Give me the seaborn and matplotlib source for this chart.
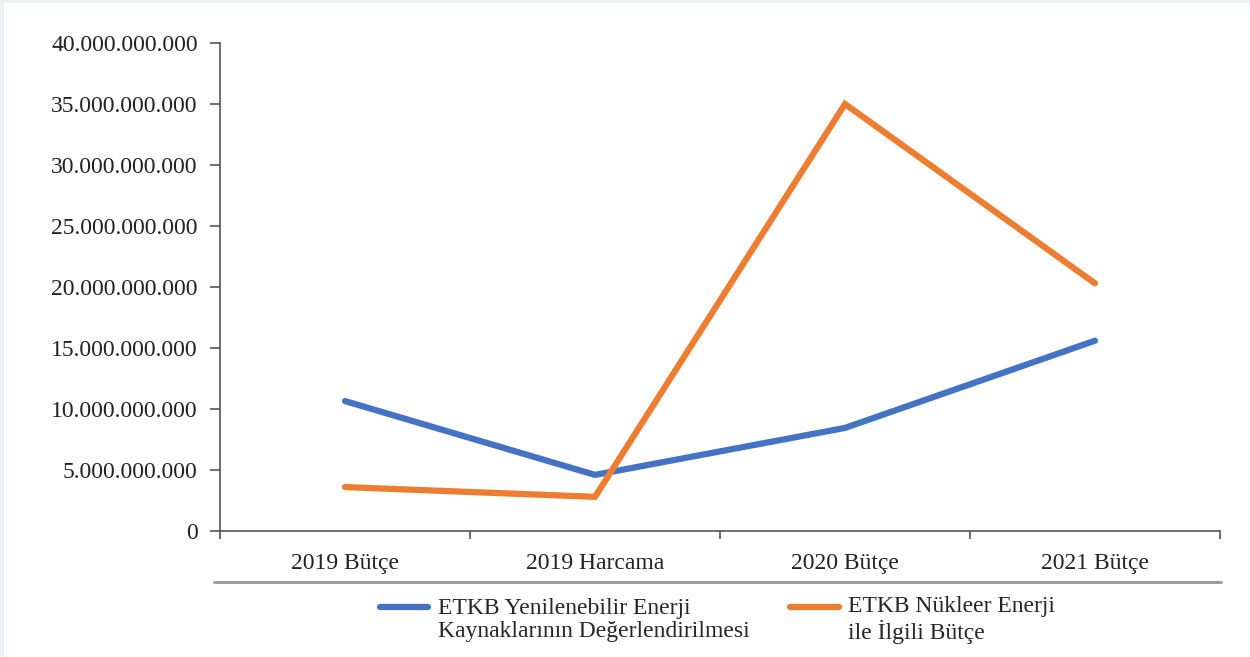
"""
Yenilenebilir vs nükleer enerji bütçeleri (ETKB), 2019-2021.
"""

import matplotlib.pyplot as plt
import matplotlib.ticker as mticker
import numpy as np
import pandas as pd
import seaborn as sns
from matplotlib.lines import Line2D
from matplotlib.patches import Rectangle

categories = ["2019 Bütçe", "2019 Harcama", "2020 Bütçe", "2021 Bütçe"]
renewable = [10_650_000_000, 4_600_000_000, 8_450_000_000, 15_600_000_000]
nuclear = [3_600_000_000, 2_800_000_000, 35_000_000_000, 20_300_000_000]
series_names = [
    "ETKB Yenilenebilir Enerji\nKaynaklarının Değerlendirilmesi",
    "ETKB Nükleer Enerji\nile İlgili Bütçe",
]
y_ticks = [0, 5e9, 10e9, 15e9, 20e9, 25e9, 30e9, 35e9, 40e9]

_PALETTE = {series_names[0]: "#4472C4", series_names[1]: "#ED7D31"}
_LW = 4.5
_FS = 17

sns.set_theme(style="white")
plt.rcParams["font.family"] = ["Liberation Serif", "DejaVu Serif"]

df = pd.DataFrame({
    "kategori": categories * 2,
    "tutar": renewable + nuclear,
    "seri": [series_names[0]] * 4 + [series_names[1]] * 4,
})

fig = plt.figure(figsize=(12.5, 6.57), dpi=100, facecolor="#EDF2F7")
fig.add_artist(Rectangle((4 / 1250, 0), 1, 654 / 657, transform=fig.transFigure,
                         facecolor="white", edgecolor="none", zorder=-10))
ax = fig.add_axes([220 / 1250, 1 - 531 / 657, 1000 / 1250, 488 / 657])
ax.set_facecolor("none")

sns.lineplot(data=df, x="kategori", y="tutar", hue="seri", palette=_PALETTE,
             linewidth=_LW, ax=ax, legend=False, sort=False)
for line in ax.get_lines():
    line.set_solid_capstyle("round")
    line.set_solid_joinstyle("miter")

ax.set_xlim(-0.5, 3.5)
ax.set_ylim(0, 40e9)
ax.set_yticks(y_ticks)
ax.yaxis.set_major_formatter(mticker.FuncFormatter(lambda v, _: f"{int(v):,}".replace(",", ".")))
ax.set_xticks(range(len(categories)))
ax.set_xticklabels(categories)
ax.set_xticks([-0.5, 0.5, 1.5, 2.5, 3.5], minor=True)
ax.tick_params(axis="x", which="major", bottom=True, length=0, pad=16,
               labelsize=_FS, labelcolor="#222222")
ax.tick_params(axis="x", which="minor", bottom=True, length=6, width=1.2,
               color="#555555", direction="out")
ax.tick_params(axis="y", left=True, length=7, width=1.2, color="#555555", direction="out",
               labelsize=_FS, labelcolor="#222222", pad=9)
ax.set_xlabel("")
ax.set_ylabel("")
sns.despine(ax=ax, top=True, right=True)
for side in ("left", "bottom"):
    ax.spines[side].set_color("#555555")
    ax.spines[side].set_linewidth(1.2)

# separator between axis labels and legend
fig.add_artist(Line2D([214 / 1250, 1221 / 1250], [1 - 582 / 657] * 2,
                      transform=fig.transFigure, color="#999999", linewidth=2))

handles = [Line2D([], [], color=_PALETTE[n], linewidth=_LW, solid_capstyle="round")
           for n in series_names]
leg = fig.legend(handles, series_names, loc="center",
                 bbox_to_anchor=(717.5 / 1250, 1 - 620 / 657),
                 ncol=2, frameon=False, fontsize=_FS, handlelength=2.05, handletextpad=0.4,
                 columnspacing=1.73)
for text in leg.get_texts():
    text.set_linespacing(1.15)
# put the swatch next to the first line of each two-line label
for hline in leg.get_lines():
    hline.set_ydata(np.asarray(hline.get_ydata()) + 9)

fig.savefig("out.png", dpi=100, facecolor=fig.get_facecolor())
plt.close(fig)
